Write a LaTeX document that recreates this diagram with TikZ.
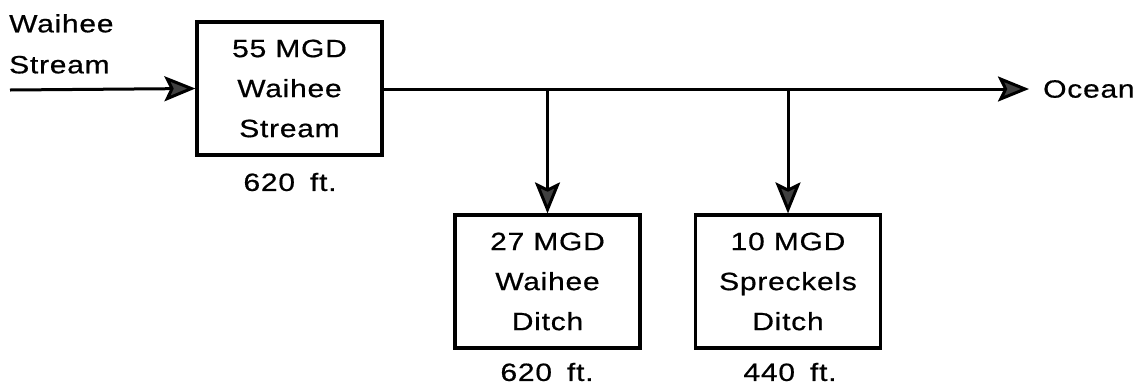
\documentclass[tikz,border=0pt]{standalone}
\usepackage{fontspec}
\setmainfont{Liberation Sans}[FakeStretch=1.2,LetterSpace=3,FakeBold=0.6]
\usetikzlibrary{arrows.meta,positioning}
\tikzset{
  box/.style={draw,line width=3.2pt,minimum width=185pt,minimum height=133pt,
    align=center,inner sep=0pt,font=\fontsize{25}{40}\selectfont},
  lbl/.style={inner sep=0pt,font=\fontsize{25}{41}\selectfont},
  flow/.style={line width=3pt,-{Stealth[length=31pt,width=25pt,inset=6pt,fill=black!75]}},
}
\begin{document}
\begin{tikzpicture}[x=1pt,y=-1pt]
\useasboundingbox (0,0) rectangle (1139,389);
% boxes
\node[box] (stream) at (289.5,88.5) {55 MGD\\Waihee\\Stream};
\node[box] (wditch) at (547.5,281.5) {27 MGD\\Waihee\\Ditch};
\node[box] (sditch) at (788,281.5) {10 MGD\\Spreckels\\Ditch};
% labels
\node[lbl,align=left,anchor=north west] (src) at (9,14) {Waihee\\Stream};
\node[lbl,anchor=west] (ocean) at (1043,89) {Ocean};
\node[lbl] (e1) at (290,182) {620\hspace{0.6em}ft.};
\node[lbl] (e2) at (547,372) {620\hspace{0.6em}ft.};
\node[lbl] (e3) at (790,372) {440\hspace{0.6em}ft.};
% flow lines
\coordinate (in) at (10,90);
\coordinate (out) at (1029,89);
\coordinate (b1) at (wditch.north |- out);
\coordinate (b2) at (sditch.north |- out);
\draw[flow] (in) -- (stream.west);
\draw[flow] (stream.east |- out) -- (out);
\draw[flow] (b1) -- (wditch.north);
\draw[flow] (b2) -- (sditch.north);
\end{tikzpicture}
\end{document}
